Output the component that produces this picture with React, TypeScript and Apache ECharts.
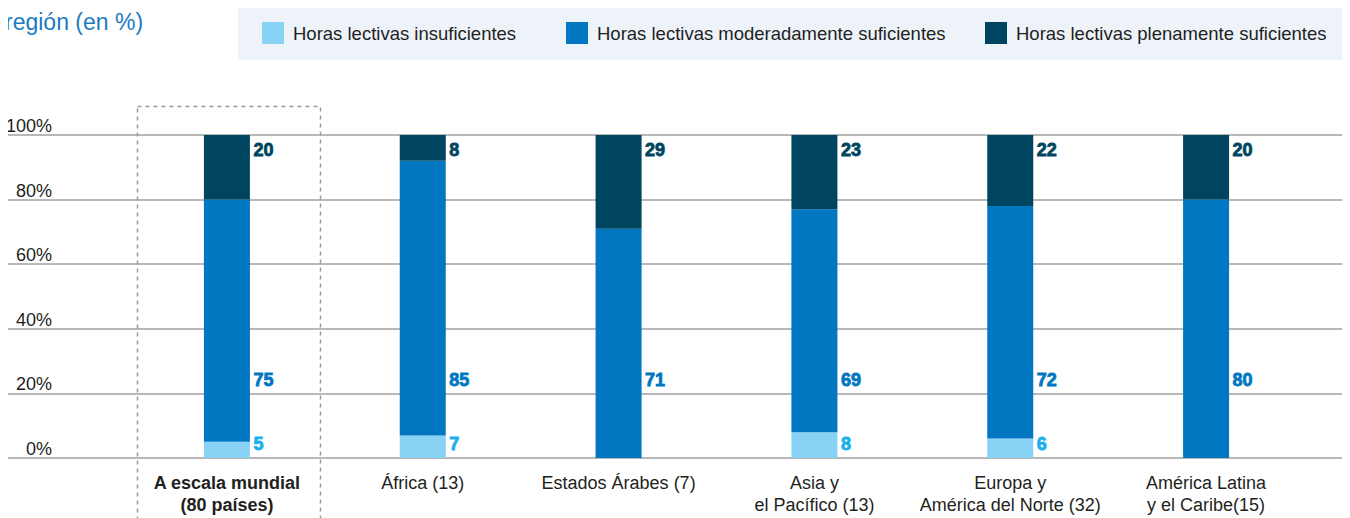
import React, { useEffect, useRef } from "react";
import * as echarts from "echarts";

const categories = [
  "A escala mundial\n(80 países)",
  "África (13)",
  "Estados Árabes (7)",
  "Asia y\nel Pacífico (13)",
  "Europa y\nAmérica del Norte (32)",
  "América Latina\ny el Caribe(15)",
];
const insuficientes = [5, 7, 0, 8, 6, 0];
const moderadas = [75, 85, 71, 69, 72, 80];
const plenas = [20, 8, 29, 23, 22, 20];
const seriesNames = [
  "Horas lectivas insuficientes",
  "Horas lectivas moderadamente suficientes",
  "Horas lectivas plenamente suficientes",
];
const yTicks = [0, 20, 40, 60, 80, 100];

// label anchor heights (axis units), styling only
const TOP_ANCHOR = 95.3;
const MID_ANCHOR = 24.3;
const BOT_ANCHOR = 4.4;

const C_LIGHT = "#87D2F5";
const C_MID = "#0077C0";
const C_DARK = "#00455F";
const FONT = "'Liberation Sans', Arial, sans-serif";

function labelSeries(values: number[], anchor: number, color: string) {
  return {
    type: "scatter",
    xAxisIndex: 0,
    yAxisIndex: 0,
    symbol: "circle",
    symbolSize: 1,
    silent: true,
    itemStyle: { color: "rgba(0,0,0,0)" },
    data: values.map((v, i) => [i, anchor]),
    label: {
      show: true,
      position: "right",
      distance: 26,
      formatter: (p: any) => (values[p.dataIndex] > 0 ? String(values[p.dataIndex]) : ""),
      color,
      opacity: 1,
      textBorderColor: color,
      textBorderWidth: 0.8,
      fontFamily: FONT,
      fontWeight: "bold",
      fontSize: 18,
    },
    z: 5,
  };
}

export default function App() {
  const ref = useRef<HTMLDivElement>(null);
  useEffect(() => {
    if (!ref.current) return;
    const chart = echarts.init(ref.current, null, { renderer: "svg" });
    const legendBase = {
      top: 22,
      padding: 0,
      itemWidth: 22,
      itemHeight: 22,
      icon: "rect",
      selectedMode: false,
      textStyle: { fontFamily: FONT, fontSize: 18.5, color: "#231f20", padding: [0, 0, 0, 4] },
    };
    chart.setOption({
      animation: false,
      textStyle: { fontFamily: FONT },
      graphic: [
        { type: "rect", left: 238, top: 3, shape: { width: 1112, height: 57 }, style: { fill: "#EEF3FA" }, z: 0 },
        { type: "text", left: 5, top: 10, style: { text: "región (en %)", fontSize: 23, fontFamily: FONT, fill: "#1B7BC1" } },
        {
          type: "rect",
          left: 135,
          top: 104,
          shape: { width: 183, height: 440 },
          style: { fill: "none", stroke: "#9a9a9a", lineWidth: 1.5, lineDash: [4, 4] },
          z: 1,
        },
      ],
      legend: seriesNames.map((n, i) => ({ ...legendBase, left: [262, 566, 985][i], data: [n] })),
      grid: [
        { left: 129, right: 46, top: 135, bottom: 60 },
        { left: 5, right: 0, top: 135, bottom: 60 },
      ],
      xAxis: [
        {
          type: "category",
          gridIndex: 0,
          data: categories.map((c, i) =>
            i === 0 ? { value: c, textStyle: { fontWeight: "bold" } } : c
          ),
          axisLine: { show: false },
          axisTick: { show: false },
          axisLabel: {
            fontFamily: FONT,
            fontSize: 18,
            lineHeight: 22,
            color: "#231f20",
            margin: 14,
            interval: 0,
          },
        },
        { type: "value", gridIndex: 1, show: false, min: 0, max: 1 },
      ],
      yAxis: [
        { type: "value", gridIndex: 0, min: 0, max: 100, interval: 20, show: false },
        {
          type: "value",
          gridIndex: 1,
          min: 0,
          max: 100,
          interval: 20,
          axisLine: { show: false },
          axisTick: { show: false },
          splitLine: { show: true, lineStyle: { color: "#b8b8b8", width: 2 } },
          axisLabel: {
            inside: true,
            align: "right",
            verticalAlign: "bottom",
            margin: 47,
            fontFamily: FONT,
            fontSize: 18,
            color: "#231f20",
            formatter: (v: number) => (yTicks.includes(v) ? v + "%" : ""),
          },
        },
      ],
      series: [
        {
          name: seriesNames[0],
          type: "bar",
          stack: "t",
          barWidth: 46,
          data: insuficientes,
          itemStyle: { color: C_LIGHT },
          z: 3,
        },
        {
          name: seriesNames[1],
          type: "bar",
          stack: "t",
          barWidth: 46,
          data: moderadas,
          itemStyle: { color: C_MID },
          z: 3,
        },
        {
          name: seriesNames[2],
          type: "bar",
          stack: "t",
          barWidth: 46,
          data: plenas,
          itemStyle: { color: C_DARK },
          z: 3,
        },
        labelSeries(plenas, TOP_ANCHOR, C_DARK),
        labelSeries(moderadas, MID_ANCHOR, C_MID),
        labelSeries(insuficientes, BOT_ANCHOR, "#1AB0EA"),
      ],
    });
    return () => chart.dispose();
  }, []);
  return <div ref={ref} style={{ width: 1350, height: 518, margin: "-8px 0 0 -8px" }} />;
}
